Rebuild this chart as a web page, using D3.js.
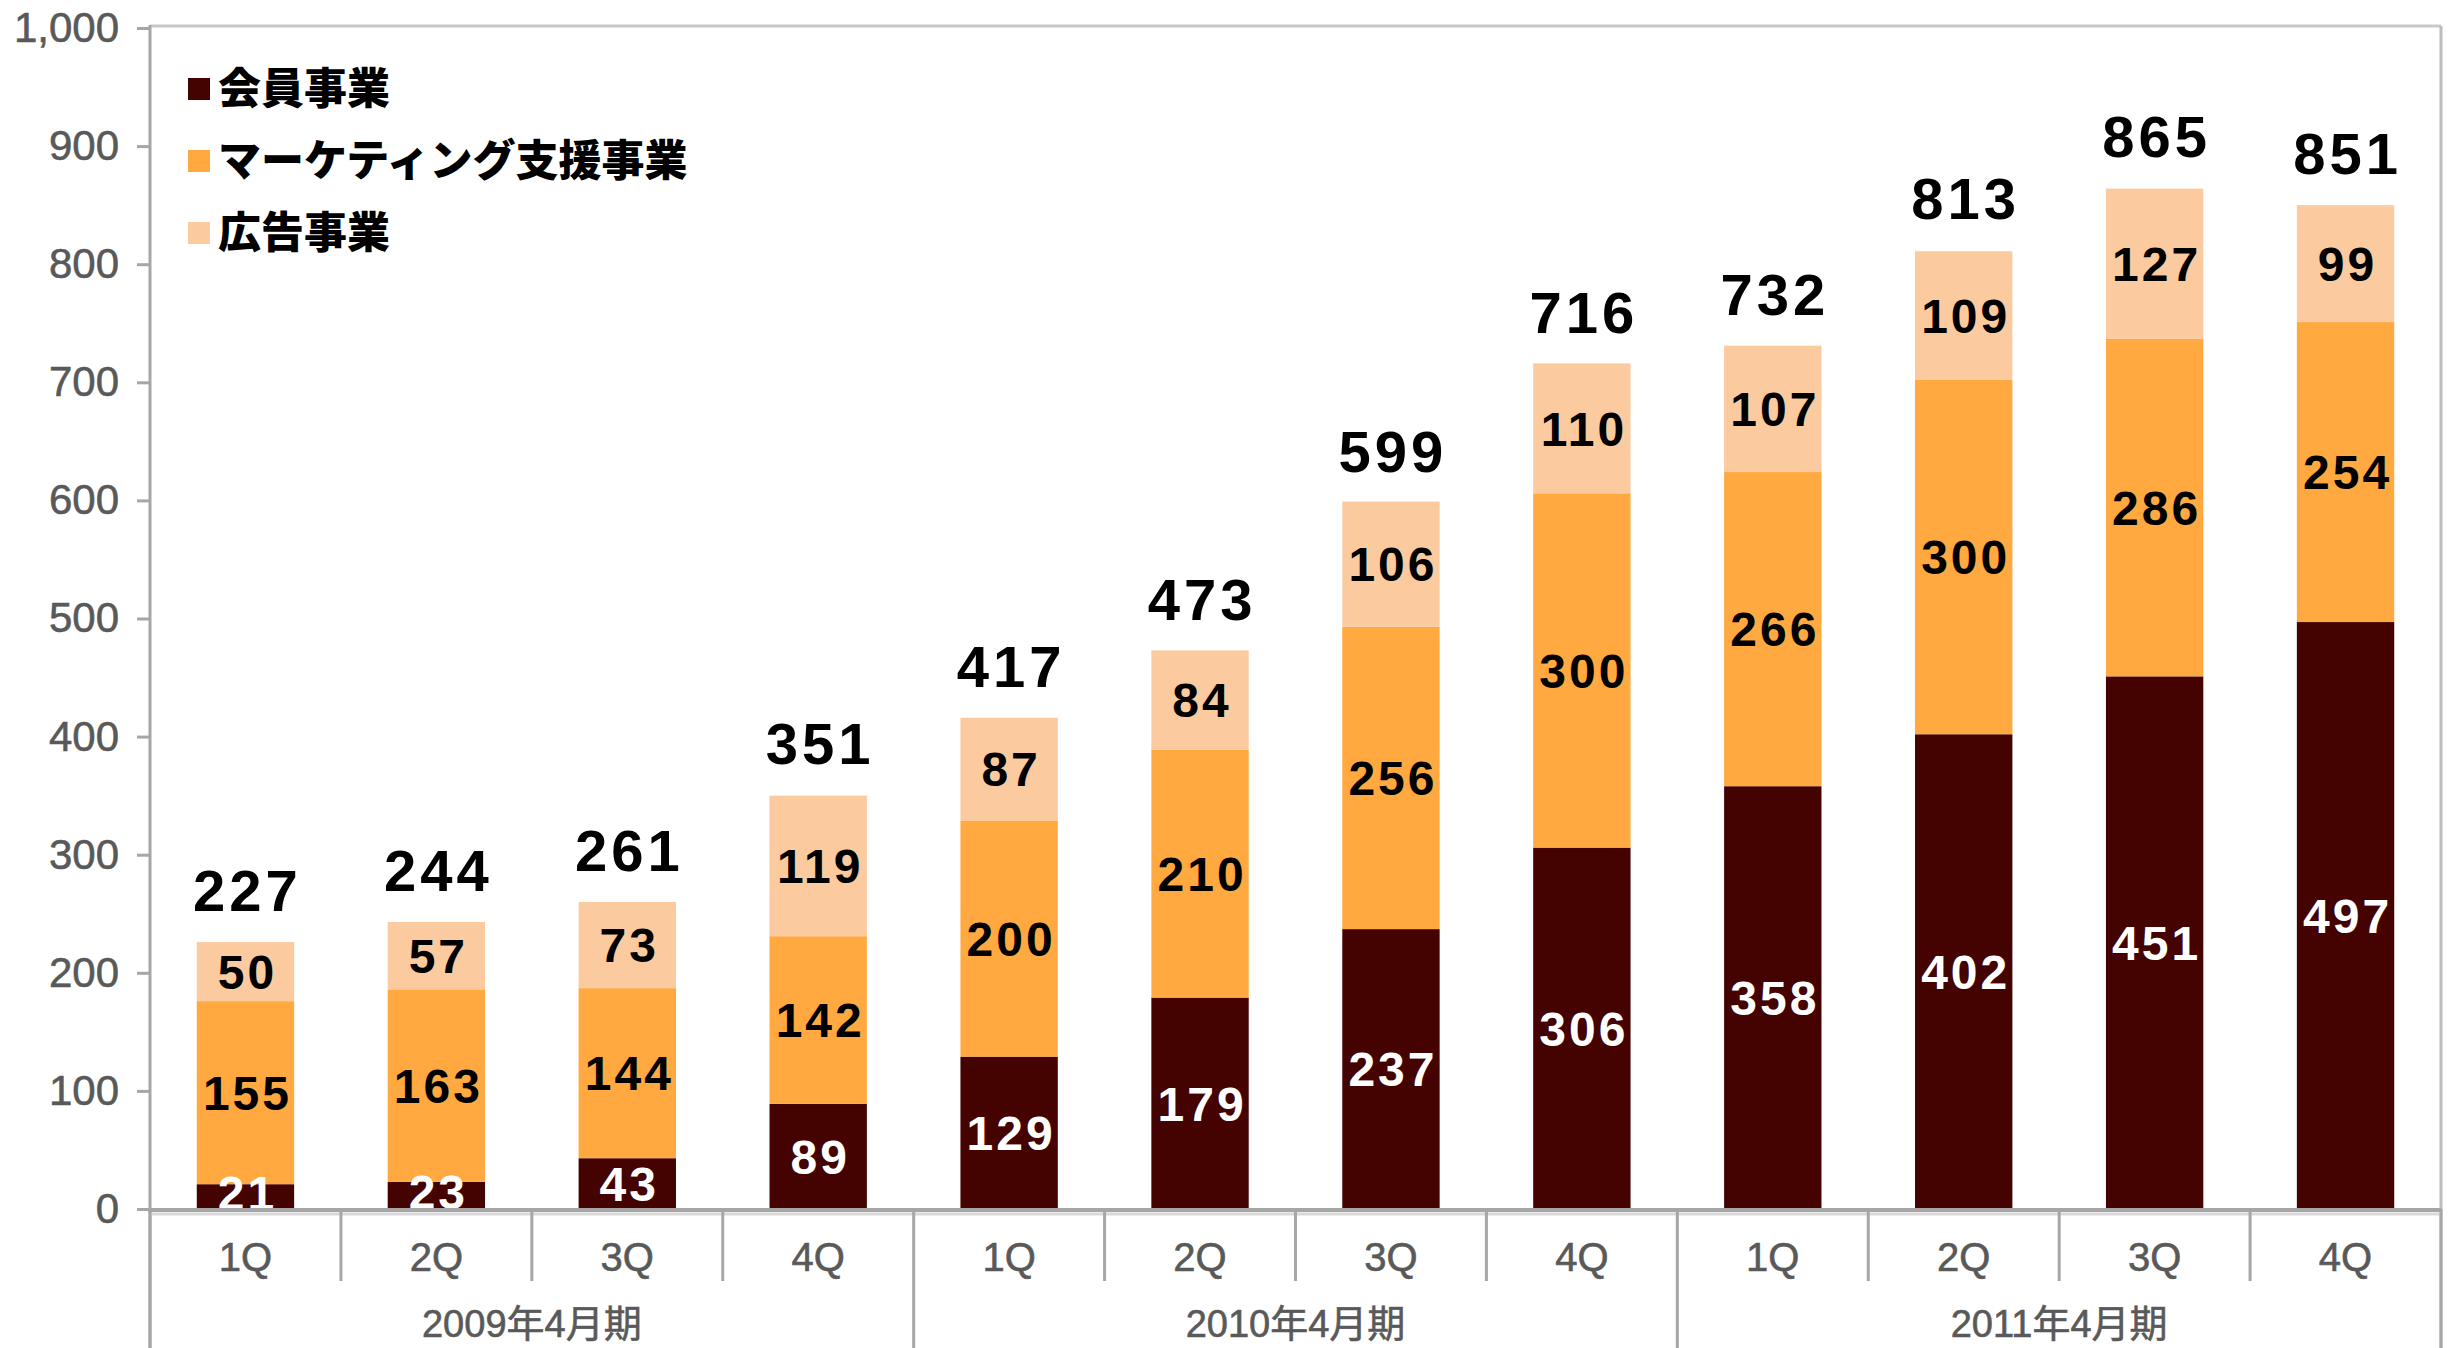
<!DOCTYPE html>
<html><head><meta charset="utf-8">
<script src="https://cdn.jsdelivr.net/npm/d3@7"></script>
<style>
html,body{margin:0;padding:0;background:#fff;}
svg{display:block;}
</style></head>
<body>
<svg id="chart" width="2449" height="1348"></svg>
<script>
const quarters = ["1Q","2Q","3Q","4Q","1Q","2Q","3Q","4Q","1Q","2Q","3Q","4Q"];
const fiscalYears = ["2009年4月期","2010年4月期","2011年4月期"];
const seriesNames = ["会員事業","マーケティング支援事業","広告事業"];
const membership = [21,23,43,89,129,179,237,306,358,402,451,497];
const marketing = [155,163,144,142,200,210,256,300,266,300,286,254];
const advertising = [50,57,73,119,87,84,106,110,107,109,127,99];
const totals = [227,244,261,351,417,473,599,716,732,813,865,851];
const yTicks = [0,100,200,300,400,500,600,700,800,900,1000];
const colors = ["#440300","#FFA940","#FCCA9F"];
const labelColors = ["#ffffff","#000000","#000000"];

(function(){
const svg = d3.select("#chart");
const pLeft = 150, pRight = 2441, pTop = 28, pBase = 1209;
const ids = d3.range(quarters.length);
const x = d3.scaleBand().domain(ids).range([pLeft, pRight]).paddingInner(0.49).paddingOuter(0.245);
const y = d3.scaleLinear().domain([0,1000]).range([pBase, pTop]);

const table = ids.map(i => ({i, m: membership[i], k: marketing[i], a: advertising[i]}));
const stack = d3.stack().keys(["m","k","a"])(table);

// frame (top & right)
svg.append("line").attr("x1",pLeft).attr("x2",pRight).attr("y1",pTop-2).attr("y2",pTop-2)
  .attr("stroke","#c8c8c8").attr("stroke-width",3);
svg.append("line").attr("x1",pRight).attr("x2",pRight).attr("y1",pTop-2).attr("y2",1348)
  .attr("stroke","#bdbdbd").attr("stroke-width",3);

// bars
stack.forEach((s, si) => {
  svg.append("g").selectAll("rect").data(s).join("rect")
    .attr("x", d => x(d.data.i))
    .attr("width", x.bandwidth())
    .attr("y", d => y(d[1]))
    .attr("height", d => y(d[0]) - y(d[1]))
    .attr("fill", colors[si]);
});

// segment labels
stack.forEach((s, si) => {
  svg.append("g").selectAll("text").data(s).join("text")
    .attr("x", d => x(d.data.i) + x.bandwidth()/2 + 2)
    .attr("y", d => (y(d[0]) + y(d[1]))/2 - (si === 0 && (d[1]-d[0]) < 30 ? 4 : 0))
    .attr("dy","0.36em")
    .attr("text-anchor","middle")
    .attr("font-family","Liberation Sans, Arial, sans-serif")
    .attr("font-weight","bold")
    .attr("font-size",48)
    .attr("letter-spacing",3)
    .attr("fill", labelColors[si])
    .text(d => d[1]-d[0]);
});

// total labels
svg.append("g").selectAll("text").data(ids).join("text")
  .attr("x", i => x(i) + x.bandwidth()/2 + 2)
  .attr("y", i => y(totals[i]) - 30)
  .attr("text-anchor","middle")
  .attr("font-family","Liberation Sans, Arial, sans-serif")
  .attr("font-weight","bold")
  .attr("font-size",58)
  .attr("letter-spacing",4)
  .attr("fill","#000")
  .text(i => totals[i]);

// y axis
const yAxis = svg.append("g").attr("transform",`translate(${pLeft},0)`)
  .call(d3.axisLeft(y).tickValues(yTicks).tickSize(13).tickPadding(18).tickFormat(d3.format(",")));
yAxis.select(".domain").remove();
yAxis.selectAll(".tick line").attr("stroke","#a6a6a6").attr("stroke-width",3);
yAxis.selectAll(".tick text").attr("font-family","Liberation Sans, Arial, sans-serif")
  .attr("font-size",42).attr("fill","#595959").attr("stroke","#595959").attr("stroke-width",0.6);
svg.append("line").attr("x1",pLeft).attr("x2",pLeft).attr("y1",pTop-3).attr("y2",1348)
  .attr("stroke","#a6a6a6").attr("stroke-width",3);

// baseline
svg.append("line").attr("x1",pLeft-2).attr("x2",pRight).attr("y1",pBase+5).attr("y2",pBase+5)
  .attr("stroke","#d9d9d9").attr("stroke-width",3);
svg.append("line").attr("x1",pLeft-2).attr("x2",pRight).attr("y1",pBase+1).attr("y2",pBase+1)
  .attr("stroke","#a6a6a6").attr("stroke-width",4);

// category separators
const step = x.step();
const bounds = d3.range(quarters.length+1).map(k => pLeft + k*step);
svg.append("g").selectAll("line").data(bounds).join("line")
  .attr("x1", d => d).attr("x2", d => d)
  .attr("y1", pBase)
  .attr("y2", (d,k) => k % 4 === 0 ? 1348 : 1281)
  .attr("stroke","#a6a6a6").attr("stroke-width",3);

// quarter labels
svg.append("g").selectAll("text").data(ids).join("text")
  .attr("x", i => x(i) + x.bandwidth()/2)
  .attr("y", 1257).attr("dy","0.36em")
  .attr("text-anchor","middle")
  .attr("font-family","Liberation Sans, Arial, sans-serif")
  .attr("font-size",40).attr("fill","#595959").attr("stroke","#595959").attr("stroke-width",0.6)
  .text(i => quarters[i]);

// fiscal year labels
svg.append("g").selectAll("text").data(fiscalYears).join("text")
  .attr("x", (d,g) => pLeft + (g*4+2)*step)
  .attr("y", 1323).attr("dy","0.36em")
  .attr("text-anchor","middle")
  .attr("font-family","Liberation Sans, 'Noto Sans CJK JP', sans-serif")
  .attr("font-size",38).attr("fill","#595959").attr("stroke","#595959").attr("stroke-width",0.6)
  .text(d => d);

// legend
const lg = svg.append("g");
seriesNames.forEach((n, k) => {
  const cy = 89 + k*72;
  lg.append("rect").attr("x",188).attr("y",cy-11).attr("width",22).attr("height",22).attr("fill",colors[k]);
  lg.append("text").attr("x",218).attr("y",cy).attr("dy","0.36em")
    .attr("font-family","'Noto Sans CJK JP', sans-serif").attr("font-weight",900)
    .attr("font-size",43).attr("fill","#000").text(n);
});
})();
</script>
</body></html>
